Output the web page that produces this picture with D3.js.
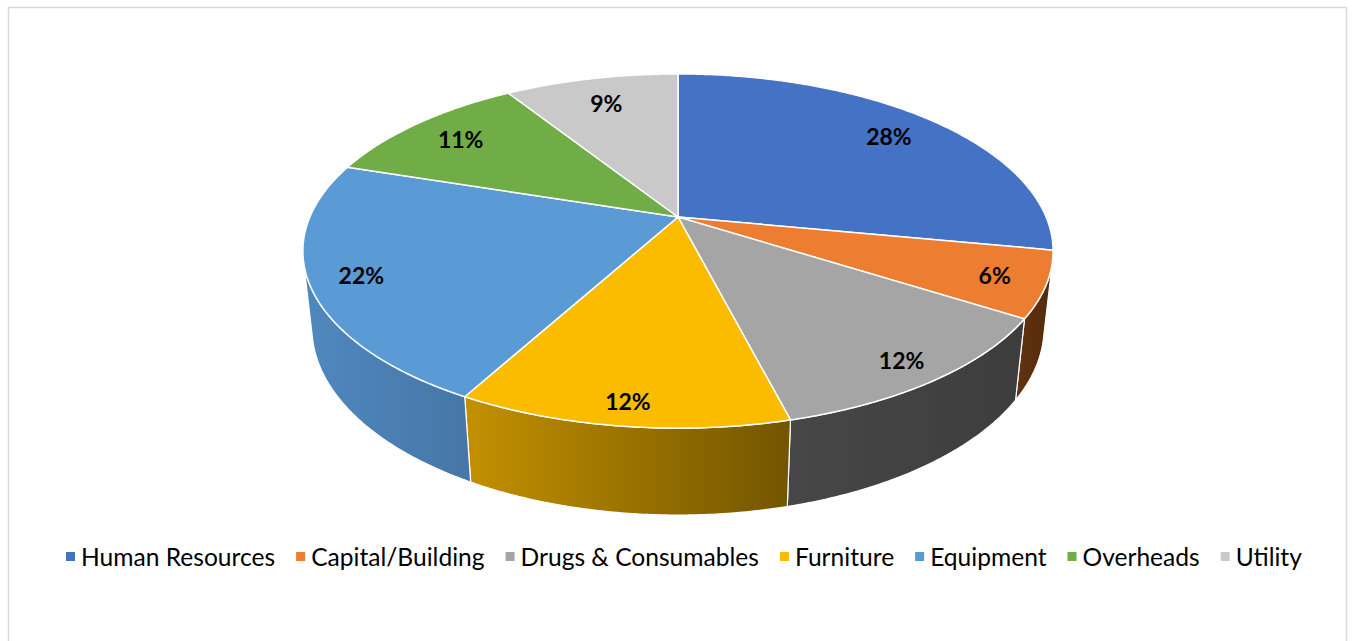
<!DOCTYPE html>
<html>
<head>
<meta charset="utf-8">
<script src="https://cdn.jsdelivr.net/npm/d3@7"></script>
<style>
  html, body { margin: 0; padding: 0; background: #fff; }
  svg { display: block; }
</style>
</head>
<body>
<div id="chart"></div>
<script>
// Budget share by category
const categories = ["Human Resources", "Capital/Building", "Drugs & Consumables", "Furniture", "Equipment", "Overheads", "Utility"];
const shares = [28, 6, 12, 12, 22, 11, 9];
const labels = ["28%", "6%", "12%", "12%", "22%", "11%", "9%"];

const topColors = ["#4472C4", "#ED7D31", "#A5A5A5", "#FBBC00", "#5B9BD5", "#70AD47", "#C9C9C9"];
// side gradients: [left, right]
const sideColors = [
  ["#2f5597", "#2f5597"],
  ["#63330f", "#522a0b"],
  ["#474747", "#3d3d3d"],
  ["#c39000", "#725500"],
  ["#5088be", "#4676a7"],
  ["#4e7a32", "#4e7a32"],
  ["#8c8c8c", "#8c8c8c"]
];

window.onload = function () {
  const width = 1352, height = 641;

  const svg = d3.select("#chart").append("svg")
    .attr("width", width)
    .attr("height", height)
    .style("font-family", "Lato, 'Open Sans', sans-serif");

  svg.append("rect")
    .attr("x", 8.5).attr("y", 7.5)
    .attr("width", 1338).attr("height", 700)
    .attr("fill", "#fff")
    .attr("stroke", "#d9d9d9")
    .attr("stroke-width", 1.5);

  // perspective camera for the 3D pie (unit radius disc)
  const cx = 678, cy = 217;
  const tilt = Math.asin(0.4633);
  const camD = 4.61, focal = 1697, depth = 0.237;
  const sinT = Math.sin(tilt), cosT = Math.cos(tilt);

  function project(theta, r, yW) {
    const X = r * Math.sin(theta), Z = -r * Math.cos(theta);
    const d = camD - yW * sinT - Z * cosT;
    const u = yW * cosT - Z * sinT;
    return [cx + focal * X / d, cy - focal * u / d];
  }

  const pie = d3.pie().sort(null).value(d => d)(shares);
  const step = Math.PI / 360;

  function rim(a0, a1, yW) {
    const pts = [];
    const n = Math.max(2, Math.ceil((a1 - a0) / step));
    for (let i = 0; i <= n; i++) pts.push(project(a0 + (a1 - a0) * i / n, 1, yW));
    return pts;
  }
  const line = d3.line();

  // visible range of the outer wall
  const lim = Math.acos(-1 / (camD * cosT));
  const visA = lim, visB = 2 * Math.PI - lim;

  const defs = svg.append("defs");
  pie.forEach((p, i) => {
    const g = defs.append("linearGradient").attr("id", "side" + i)
      .attr("x1", 0).attr("x2", 1).attr("y1", 0).attr("y2", 0);
    g.append("stop").attr("offset", "0%").attr("stop-color", sideColors[i][0]);
    g.append("stop").attr("offset", "100%").attr("stop-color", sideColors[i][1]);
  });

  const sides = svg.append("g");
  pie.forEach((p, i) => {
    const a0 = Math.max(p.startAngle, visA), a1 = Math.min(p.endAngle, visB);
    if (a1 <= a0) return;
    const top = rim(a0, a1, 0);
    const bot = rim(a0, a1, -depth).reverse();
    sides.append("path")
      .attr("d", line(top.concat(bot)) + "Z")
      .attr("fill", `url(#side${i})`)
      .attr("stroke", "#fff")
      .attr("stroke-width", 1.2)
      .attr("stroke-linejoin", "round");
  });

  const tops = svg.append("g");
  pie.forEach((p, i) => {
    const pts = [project(0, 0, 0)].concat(rim(p.startAngle, p.endAngle, 0));
    tops.append("path")
      .attr("d", line(pts) + "Z")
      .attr("fill", topColors[i])
      .attr("stroke", "#fff")
      .attr("stroke-width", 1.5)
      .attr("stroke-linejoin", "round");
  });

  // data labels
  pie.forEach((p, i) => {
    const mid = (p.startAngle + p.endAngle) / 2;
    const r = 0.85 - 0.05 * Math.cos(mid);
    const [lx, ly] = project(mid, r, 0);
    svg.append("text")
      .attr("x", lx).attr("y", ly)
      .attr("text-anchor", "middle")
      .attr("dominant-baseline", "central")
      .style("font-size", "23px")
      .style("font-weight", "700")
      .style("fill", "#000")
      .text(labels[i]);
  });

  // legend, sized to span the same width as the original
  const legend = svg.append("g");
  const mark = 9, markGap = 6, itemGap = 21;
  const left = 66, right = 1302;
  let fontSize = 22;
  const items = categories.map((c, i) => {
    const t = legend.append("text")
      .attr("y", 566)
      .style("font-size", fontSize + "px")
      .style("fill", "#000")
      .text(c);
    return { t, i };
  });
  const fixed = items.length * (mark + markGap) + itemGap * (items.length - 1);
  const textW = d3.sum(items, d => d.t.node().getComputedTextLength());
  fontSize = fontSize * (right - left - fixed) / textW;
  items.forEach(d => {
    d.t.style("font-size", fontSize.toFixed(2) + "px");
    d.w = d.t.node().getComputedTextLength();
  });
  let x = left;
  items.forEach(d => {
    legend.append("rect")
      .attr("x", x).attr("y", 552)
      .attr("width", mark).attr("height", mark)
      .attr("fill", topColors[d.i]);
    d.t.attr("x", x + mark + markGap);
    x += mark + markGap + d.w + itemGap;
  });
};
</script>
</body>
</html>
